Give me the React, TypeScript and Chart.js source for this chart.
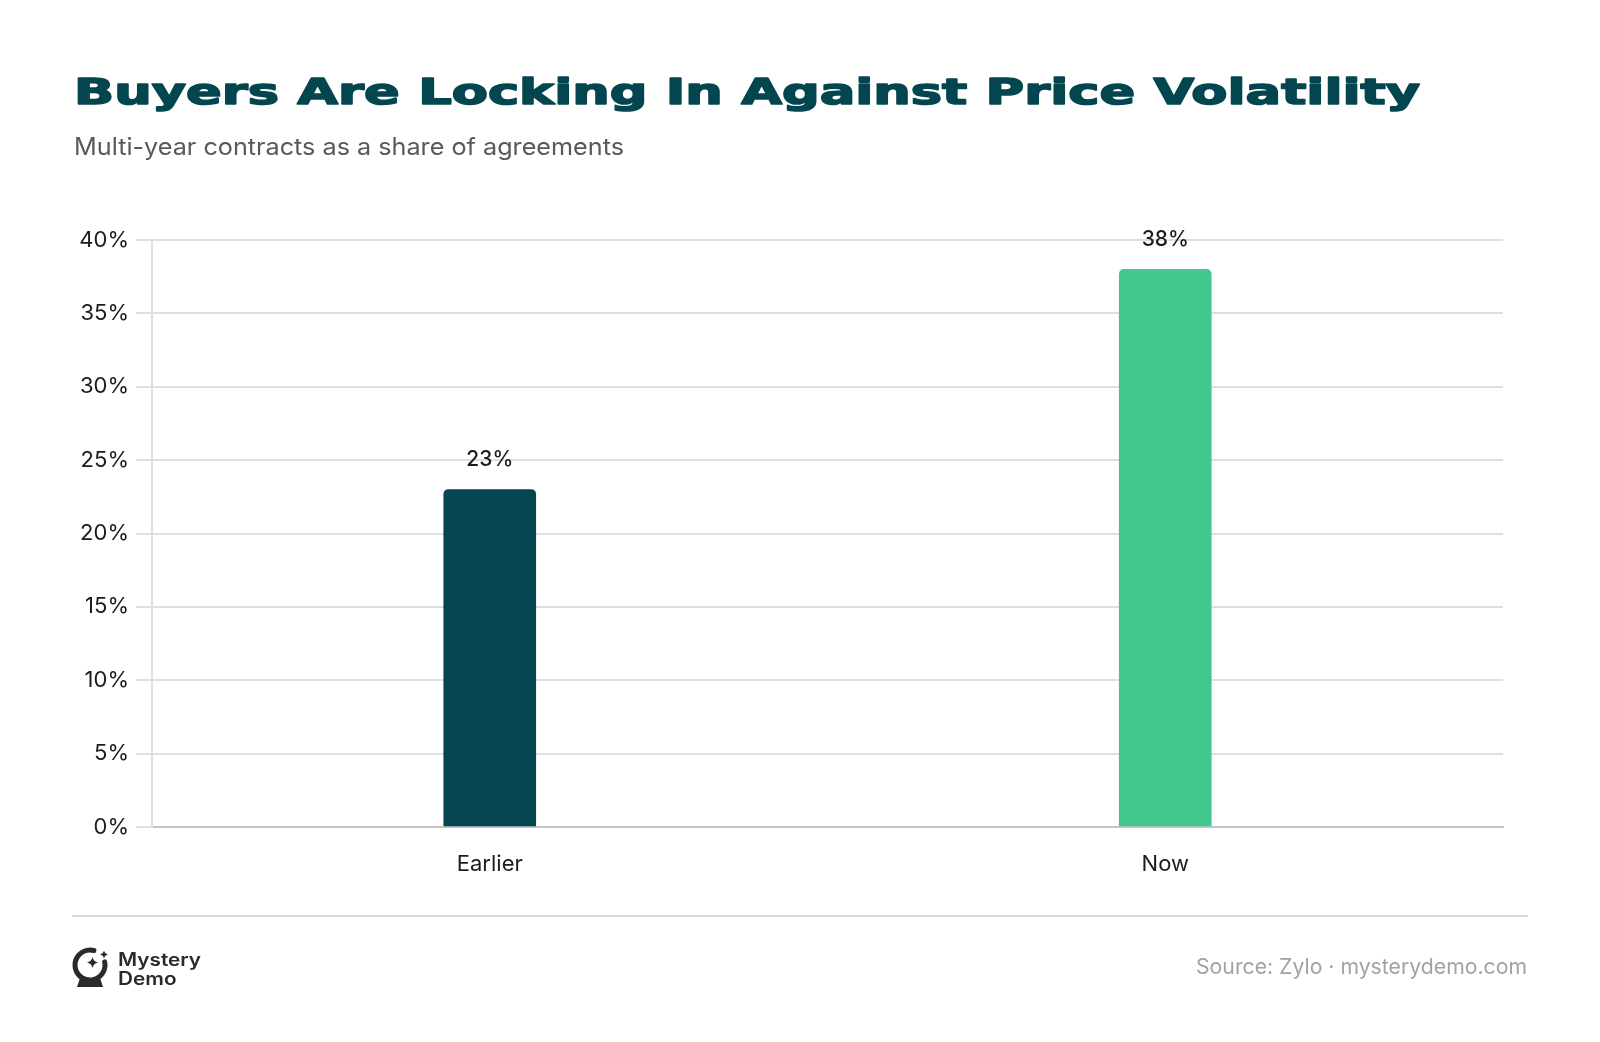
import React, { useEffect, useRef } from "react";
import { Chart, registerables } from "chart.js";

Chart.register(...registerables);

// Chart content
const titleText = "Buyers Are Locking In Against Price Volatility";
const subtitleText = "Multi-year contracts as a share of agreements";
const sourceText = "Source: Zylo · mysterydemo.com";
const brandLines = ["Mystery", "Demo"];

const categories = ["Earlier", "Now"];
const shareValues = [23, 38];
const barColors = ["#03464f", "#42c88f"];

const yTickValues = [0, 5, 10, 15, 20, 25, 30, 35, 40];
const yTickLabels = ["0%", "5%", "10%", "15%", "20%", "25%", "30%", "35%", "40%"];

const W = 1600;
const H = 1042;

function drawFitted(
  ctx: CanvasRenderingContext2D,
  text: string,
  x: number,
  y: number,
  width: number,
  font: string,
  color: string,
  align: "left" | "right",
  stroke = 0
) {
  ctx.save();
  ctx.font = font;
  const natural = ctx.measureText(text).width;
  const s = width / natural;
  ctx.translate(align === "left" ? x : x - width, y);
  ctx.scale(s, 1);
  ctx.textAlign = "left";
  ctx.textBaseline = "alphabetic";
  ctx.fillStyle = color;
  ctx.fillText(text, 0, 0);
  if (stroke > 0) {
    ctx.strokeStyle = color;
    ctx.lineWidth = stroke;
    ctx.lineJoin = "round";
    ctx.strokeText(text, 0, 0);
  }
  ctx.restore();
}

function sparkle(ctx: CanvasRenderingContext2D, cx: number, cy: number, s: number) {
  const k = s * 0.18;
  ctx.beginPath();
  ctx.moveTo(cx, cy - s);
  ctx.quadraticCurveTo(cx + k, cy - k, cx + s, cy);
  ctx.quadraticCurveTo(cx + k, cy + k, cx, cy + s);
  ctx.quadraticCurveTo(cx - k, cy + k, cx - s, cy);
  ctx.quadraticCurveTo(cx - k, cy - k, cx, cy - s);
  ctx.closePath();
  ctx.fill();
}

function drawLogo(ctx: CanvasRenderingContext2D) {
  const ink = "#2a2a2a";
  ctx.save();
  ctx.strokeStyle = ink;
  ctx.fillStyle = ink;
  ctx.lineWidth = 5;
  ctx.lineCap = "round";
  const cx = 90;
  const cy = 965;
  const r = 15;
  ctx.beginPath();
  ctx.arc(cx, cy, r, (-12 * Math.PI) / 180, (285 * Math.PI) / 180);
  ctx.stroke();
  // pedestal
  ctx.beginPath();
  ctx.moveTo(80, 978);
  ctx.lineTo(100, 978);
  ctx.lineTo(103, 987);
  ctx.lineTo(77, 987);
  ctx.closePath();
  ctx.fill();
  sparkle(ctx, 92.5, 962.5, 5.5);
  sparkle(ctx, 104, 954.5, 3.8);
  ctx.restore();

  ctx.save();
  ctx.font = "600 18px Inter";
  const s = 83 / ctx.measureText(brandLines[0]).width;
  ctx.fillStyle = ink;
  ctx.textBaseline = "alphabetic";
  ctx.translate(118, 0);
  ctx.scale(s, 1);
  ctx.fillText(brandLines[0], 0, 966);
  ctx.fillText(brandLines[1], 0, 985);
  ctx.restore();
}

const decorPlugin = {
  id: "decor",
  beforeDraw(chart: Chart) {
    const ctx = chart.ctx;
    ctx.save();
    ctx.fillStyle = "#ffffff";
    ctx.fillRect(0, 0, chart.width, chart.height);
    ctx.restore();
  },
  afterDraw(chart: Chart) {
    const ctx = chart.ctx;

    drawFitted(ctx, titleText, 74, 104, 1346, "bold 36px 'DejaVu Sans'", "#03464f", "left", 1.6);
    drawFitted(ctx, subtitleText, 74, 155, 550, "24px Inter", "#595959", "left");

    // value labels above bars
    const meta = chart.getDatasetMeta(0);
    ctx.save();
    ctx.font = "500 21px Inter";
    ctx.fillStyle = "#1b1b1b";
    ctx.textAlign = "center";
    ctx.textBaseline = "middle";
    meta.data.forEach((bar: any, i: number) => {
      ctx.fillText(`${shareValues[i]}%`, bar.x, bar.y - 30);
    });
    ctx.restore();

    // footer rule
    ctx.save();
    ctx.strokeStyle = "#d6dadf";
    ctx.lineWidth = 2;
    ctx.beginPath();
    ctx.moveTo(72, 916);
    ctx.lineTo(1528, 916);
    ctx.stroke();
    ctx.restore();

    drawLogo(ctx);
    drawFitted(ctx, sourceText, 1527, 974, 331, "21px Inter", "#a2a2a2", "right");
  },
};

export default function App() {
  const canvasRef = useRef<HTMLCanvasElement | null>(null);

  useEffect(() => {
    const canvas = canvasRef.current;
    if (!canvas) return;
    const chart = new Chart(canvas, {
      type: "bar",
      data: {
        labels: categories,
        datasets: [
          {
            data: shareValues,
            backgroundColor: barColors,
            borderRadius: 5,
            borderSkipped: "start",
            barThickness: 92,
          },
        ],
      },
      options: {
        responsive: false,
        animation: false,
        devicePixelRatio: 1,
        layout: { padding: { top: 240, right: 97, bottom: 155, left: 0 } },
        plugins: {
          legend: { display: false },
          tooltip: { enabled: false },
          title: { display: false },
        },
        scales: {
          x: {
            grid: { display: false },
            border: { display: true, color: "#c2c5c9", width: 2 },
            ticks: {
              color: "#1c1c1c",
              font: { family: "Inter", size: 22 },
              padding: 16,
            },
            afterFit: (s: any) => {
              s.height = 60;
            },
          },
          y: {
            min: yTickValues[0],
            max: yTickValues[yTickValues.length - 1],
            ticks: {
              stepSize: yTickValues[1] - yTickValues[0],
              color: "#1c1c1c",
              font: { family: "Inter", size: 22 },
              padding: 7,
              callback: (_v: any, i: number) => yTickLabels[i],
            },
            grid: {
              color: (c: any) => (c.tick && c.tick.value === 0 ? "#c2c5c9" : "#dcdfe3"),
              lineWidth: 2,
              tickLength: 16,
              tickColor: "#dcdfe3",
            },
            border: { display: true, color: "#dfe0e2", width: 2 },
            afterFit: (s: any) => {
              s.width = 152;
            },
          },
        },
      },
      plugins: [decorPlugin],
    });
    return () => chart.destroy();
  }, []);

  return (
    <div style={{ position: "fixed", left: 0, top: 0, width: W, height: H, background: "#fff" }}>
      <canvas ref={canvasRef} width={W} height={H} style={{ display: "block", width: W, height: H }} />
    </div>
  );
}
